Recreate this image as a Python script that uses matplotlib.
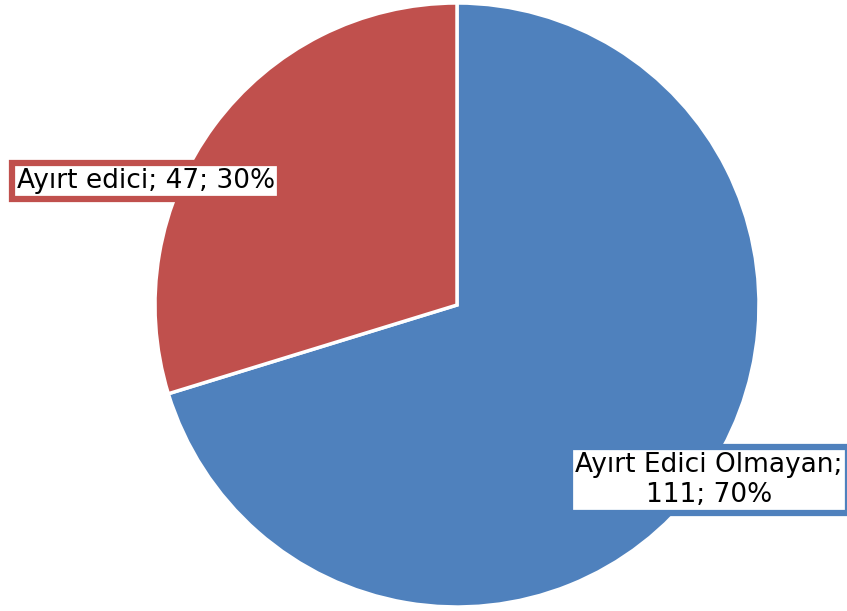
import matplotlib
matplotlib.use("Agg")
import matplotlib.pyplot as plt

labels = ["Ayırt Edici Olmayan", "Ayırt edici"]
counts = [111, 47]
colors = ["#4F81BD", "#C0504D"]

W, H = 847, 611
fig = plt.figure(figsize=(W / 100, H / 100), dpi=100)
ax = fig.add_axes([0, 0, 1, 1])

wedges, _ = ax.pie(counts, colors=colors, startangle=90, counterclock=False,
                   center=(457, 306), radius=302, frame=True,
                   wedgeprops=dict(edgecolor="white", linewidth=2.5))
ax.set_xlim(0, W)
ax.set_ylim(0, H)
ax.set_aspect("equal")
ax.axis("off")

total = sum(counts)
pcts = [round(c / total * 100) for c in counts]

font = "DejaVu Sans"
# label positions (pixel coords of the reference, y flipped)
ax.text(709, 131, f"{labels[0]};\n{counts[0]}; {pcts[0]}%", ha="center", va="center",
        fontsize=19, family=font, linespacing=1.2,
        bbox=dict(boxstyle="square,pad=0.2", fc="white", ec=colors[0], lw=4.5))
ax.text(146, 430, f"{labels[1]}; {counts[1]}; {pcts[1]}%", ha="center", va="center",
        fontsize=19, family=font,
        bbox=dict(boxstyle="square,pad=0.2", fc="white", ec=colors[1], lw=4.5))

fig.savefig("out.png", dpi=100)
